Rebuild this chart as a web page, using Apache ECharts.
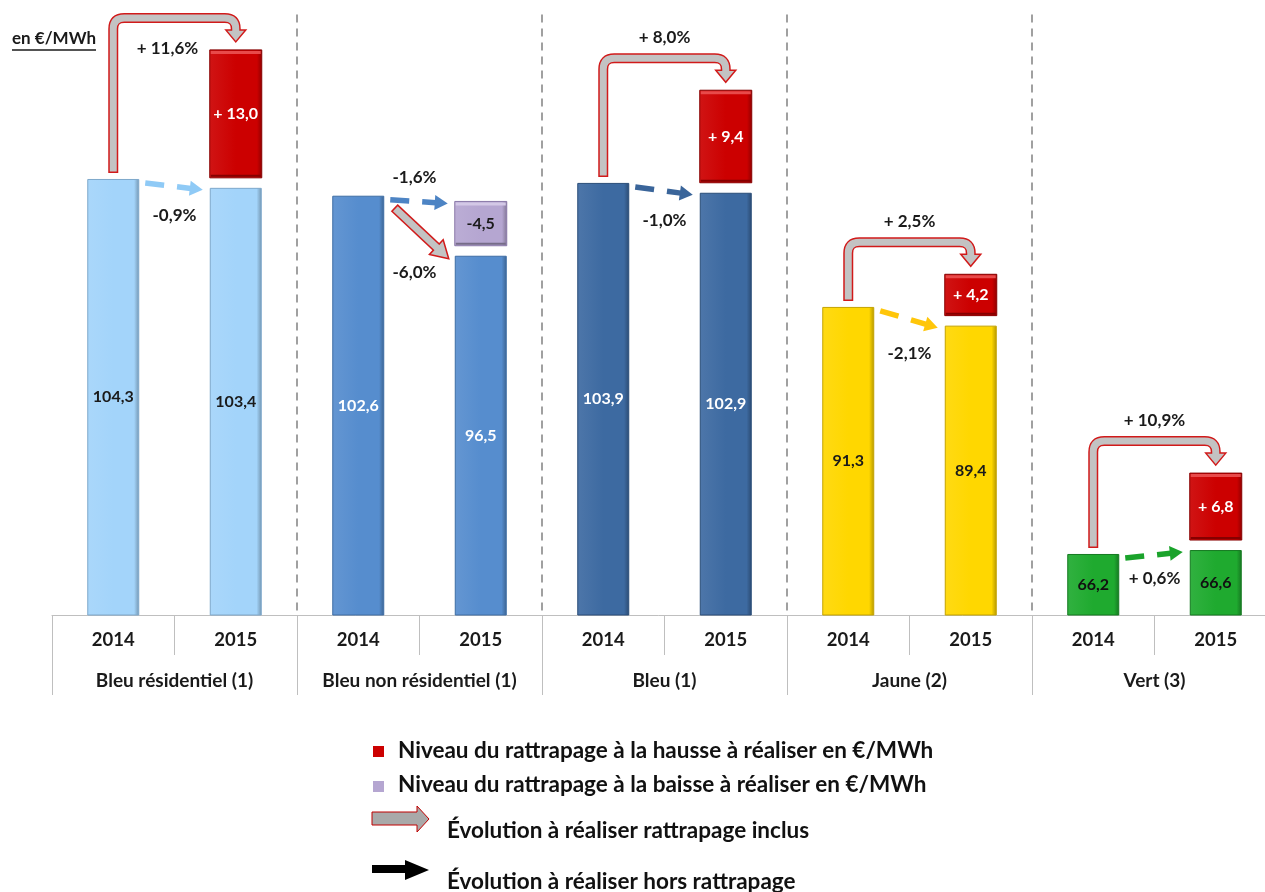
<!DOCTYPE html>
<html>
<head>
<meta charset="utf-8">
<script src="https://cdn.jsdelivr.net/npm/echarts@6/dist/echarts.min.js"></script>
<style>
  html, body { margin: 0; padding: 0; background: #ffffff; }
  #chart { width: 1265px; height: 892px; }
</style>
</head>
<body>
<div id="chart"></div>
<script>
// Tarifs réglementés (en €/MWh), 2014 et 2015, par option tarifaire
const groups = ['Bleu résidentiel (1)', 'Bleu non résidentiel (1)', 'Bleu (1)', 'Jaune (2)', 'Vert (3)'];
const years = ['2014', '2015'];
const tarif2014 = [104.3, 102.6, 103.9, 91.3, 66.2];
const tarif2015 = [103.4, 96.5, 102.9, 89.4, 66.6];
const rattrapageHausse = [13.0, null, 9.4, 4.2, 6.8];
const rattrapageBaisse = [null, 4.5, null, null, null];
const evolutionInclus = ['+ 11,6%', '-6,0%', '+ 8,0%', '+ 2,5%', '+ 10,9%'];
const evolutionHors = ['-0,9%', '-1,6%', '-1,0%', '-2,1%', '+ 0,6%'];
const legendLabels = [
  'Niveau du rattrapage à la hausse à réaliser en €/MWh',
  'Niveau du rattrapage à la baisse à réaliser en €/MWh',
  'Évolution à réaliser rattrapage inclus',
  'Évolution à réaliser hors rattrapage'
];
const unitLabel = 'en €/MWh';

// Styling
const FONT = 'Lato, "Open Sans", sans-serif';
const BAR_W = 52;      // bar width in px
const GAP = 10;        // px gap between a 2015 bar and its rattrapage box
const palette = [
  { fill: '#a3d4fa', edge: '#7ea8cb', text: '#1a1a1a', arrow: '#8fcaf6' },
  { fill: '#568dce', edge: '#3e6da4', text: '#ffffff', arrow: '#4d84c4' },
  { fill: '#3d6aa1', edge: '#2a4d78', text: '#ffffff', arrow: '#3a659a' },
  { fill: '#ffd700', edge: '#c4a300', text: '#1a1a1a', arrow: '#ffc60a' },
  { fill: '#1faa2f', edge: '#157a21', text: '#111111', arrow: '#1aa32b' }
];
const RED = { fill: '#cc0000', edge: '#870000', light: '#e84a4a' };
const PURPLE = { fill: '#b5a6d1', edge: '#8a79a8', light: '#d3c8e6' };
const ARROW_GRAY = '#c3c3c3';
const ARROW_RED = '#d11a1a';

const fmt = v => v.toFixed(1).replace('.', ',');

// Category keys: one per (group, year)
const categories = [];
groups.forEach((g, gi) => years.forEach(y => categories.push(gi + '|' + y)));

function shade(hex, k) {
  const n = parseInt(hex.slice(1), 16);
  let r = (n >> 16) & 255, g = (n >> 8) & 255, b = n & 255;
  const f = c => Math.max(0, Math.min(255, Math.round(k >= 0 ? c + (255 - c) * k : c * (1 + k))));
  return 'rgb(' + f(r) + ',' + f(g) + ',' + f(b) + ')';
}

function barGradient(c) {
  return new echarts.graphic.LinearGradient(0, 0, 1, 0, [
    { offset: 0, color: shade(c, 0.08) },
    { offset: 0.5, color: c },
    { offset: 0.9, color: c },
    { offset: 1, color: shade(c, -0.3) }
  ]);
}

// Main bars (2014 / 2015 for each group)
const barData = [];
groups.forEach((g, gi) => {
  [tarif2014[gi], tarif2015[gi]].forEach(v => {
    const p = palette[gi];
    barData.push({
      value: v,
      itemStyle: { color: barGradient(p.fill), borderColor: p.edge, borderWidth: 1 },
      label: { color: p.text }
    });
  });
});

// Rattrapage boxes stacked over the 2015 bars
const adjItems = [];
groups.forEach((g, gi) => {
  if (rattrapageHausse[gi] != null) adjItems.push({ x: gi * 2 + 1, base: tarif2015[gi], amount: rattrapageHausse[gi], kind: 'hausse' });
  if (rattrapageBaisse[gi] != null) adjItems.push({ x: gi * 2 + 1, base: tarif2015[gi], amount: rattrapageBaisse[gi], kind: 'baisse' });
});

function bevelBox(x, y, w, h, col) {
  return [
    { type: 'rect', shape: { x: x, y: y, width: w, height: h },
      style: { fill: barGradient(col.fill), stroke: col.edge, lineWidth: 1 } },
    { type: 'rect', shape: { x: x + 1, y: y + 1, width: w - 2, height: 3 },
      style: { fill: col.light } },
    { type: 'rect', shape: { x: x + 1, y: y + h - 3, width: w - 2, height: 2 },
      style: { fill: shade(col.fill, -0.35) } }
  ];
}

function renderAdjust(params, api) {
  const it = adjItems[params.dataIndex];
  const pBase = api.coord([it.x, it.base]);
  const pTop = api.coord([it.x, it.base + it.amount]);
  const yBottom = pBase[1] - GAP;
  const yTop = pTop[1] - GAP;
  const x = pBase[0] - BAR_W / 2;
  const col = it.kind === 'hausse' ? RED : PURPLE;
  const children = bevelBox(x, yTop, BAR_W, yBottom - yTop, col);
  children.push({
    type: 'text',
    style: {
      x: pBase[0], y: (yTop + yBottom) / 2,
      text: it.kind === 'hausse' ? '+ ' + fmt(it.amount) : '-' + fmt(it.amount),
      fill: it.kind === 'hausse' ? '#ffffff' : '#1a1a1a',
      font: 'bold 16px ' + FONT, align: 'center', verticalAlign: 'middle'
    }
  });
  return { type: 'group', children: children };
}

// Straight arrow with a gray body and red outline
function outlinedArrow(start, tip, shaftW, headL, headW) {
  const dx = tip[0] - start[0], dy = tip[1] - start[1];
  const L = Math.hypot(dx, dy);
  const ux = dx / L, uy = dy / L, nx = -uy, ny = ux;
  const hb = [tip[0] - ux * headL, tip[1] - uy * headL];
  return [
    { type: 'line', shape: { x1: start[0], y1: start[1], x2: hb[0], y2: hb[1] },
      style: { stroke: ARROW_RED, lineWidth: shaftW + 3 } },
    { type: 'polygon', shape: { points: [
        [hb[0] + nx * headW / 2, hb[1] + ny * headW / 2], tip,
        [hb[0] - nx * headW / 2, hb[1] - ny * headW / 2]] },
      style: { fill: ARROW_GRAY, stroke: ARROW_RED, lineWidth: 1.5, lineJoin: 'miter' } },
    { type: 'line', shape: { x1: start[0] + ux * 1.5, y1: start[1] + uy * 1.5, x2: hb[0] + ux * 2, y2: hb[1] + uy * 2 },
      style: { stroke: ARROW_GRAY, lineWidth: shaftW } }
  ];
}

// Dashed arrow (evolution hors rattrapage)
function dashedArrow(start, tip, color) {
  const dx = tip[0] - start[0], dy = tip[1] - start[1];
  const L = Math.hypot(dx, dy);
  const ux = dx / L, uy = dy / L, nx = -uy, ny = ux;
  const headL = 13, headW = 15;
  const hb = [tip[0] - ux * headL, tip[1] - uy * headL];
  return [
    { type: 'line', shape: { x1: start[0], y1: start[1], x2: hb[0] + ux, y2: hb[1] + uy },
      style: { stroke: color, lineWidth: 5.5, lineDash: [19, 13] } },
    { type: 'polygon', shape: { points: [
        [hb[0] + nx * headW / 2, hb[1] + ny * headW / 2], tip,
        [hb[0] - nx * headW / 2, hb[1] - ny * headW / 2]] },
      style: { fill: color } }
  ];
}

function pctText(x, y, text) {
  return { type: 'text', style: { x: x, y: y, text: text, fill: '#1a1a1a',
    font: 'bold 17px ' + FONT, align: 'center', verticalAlign: 'middle' } };
}

function renderArrows(params, api) {
  const g = params.dataIndex;
  const c14 = api.coord([2 * g, tarif2014[g]]);
  const c15 = api.coord([2 * g + 1, tarif2015[g]]);
  const half = BAR_W / 2;
  const midX = (c14[0] + c15[0]) / 2;
  const children = [];

  // Evolution hors rattrapage
  let targetY = c15[1];
  if (rattrapageBaisse[g] != null) {
    targetY = api.coord([2 * g + 1, tarif2015[g] + rattrapageBaisse[g]])[1] - GAP;
  }
  const dStart = [c14[0] + half + 6, c14[1] + 4];
  const dTip = [c15[0] - half - 7, targetY + 2];
  children.push.apply(children, dashedArrow(dStart, dTip, palette[g].arrow));
  if (rattrapageBaisse[g] != null) {
    children.push(pctText(midX - 5, dStart[1] - 22, evolutionHors[g]));
  } else {
    children.push(pctText(midX, c15[1] + 28, evolutionHors[g]));
  }

  // Evolution rattrapage inclus
  if (rattrapageHausse[g] != null) {
    const redTop = api.coord([2 * g + 1, tarif2015[g] + rattrapageHausse[g]])[1] - GAP;
    const x0 = c14[0], x1 = c15[0];
    const tipY = redTop - 8;
    const yc = tipY - 24;
    const yb = c14[1] - 6;
    const r = 11;
    const hb = tipY - 12;
    const d = (ys) => 'M' + x0 + ',' + ys + ' L' + x0 + ',' + (yc + r) +
      ' Q' + x0 + ',' + yc + ' ' + (x0 + r) + ',' + yc +
      ' L' + (x1 - r) + ',' + yc +
      ' Q' + x1 + ',' + yc + ' ' + x1 + ',' + (yc + r);
    children.push({ type: 'path', shape: { pathData: d(yb) + ' L' + x1 + ',' + hb },
      style: { fill: null, stroke: ARROW_RED, lineWidth: 10 } });
    children.push({ type: 'polygon', shape: { points: [[x1 - 10, hb], [x1, tipY], [x1 + 10, hb]] },
      style: { fill: ARROW_GRAY, stroke: ARROW_RED, lineWidth: 1.5 } });
    children.push({ type: 'path', shape: { pathData: d(yb - 1.5) + ' L' + x1 + ',' + (hb + 2) },
      style: { fill: null, stroke: ARROW_GRAY, lineWidth: 7 } });
    if (yc - 21 >= 12) {
      children.push(pctText(midX, yc - 21, evolutionInclus[g]));
    } else {
      children.push(pctText(midX - 7, yc + 31, evolutionInclus[g]));
    }
  } else {
    const aStart = [c14[0] + half + 10, c14[1] + 12];
    const aTip = [c15[0] - half - 6, c15[1] + 3];
    children.push.apply(children, outlinedArrow(aStart, aTip, 7, 17, 20));
    children.push(pctText(midX - 5, c15[1] + 17, evolutionInclus[g]));
  }
  return { type: 'group', children: children };
}

const chart = echarts.init(document.getElementById('chart'), null, { renderer: 'canvas' });

const axisGray = '#bfbfbf';
const legendFont = 'bold 22.5px ' + FONT;
const option = {
  animation: false,
  backgroundColor: '#ffffff',
  grid: { left: 52, top: 14.6, width: 1225, height: 600.4, containLabel: false, outerBoundsMode: 'none' },
  xAxis: [
    {
      type: 'category', data: categories, position: 'bottom',
      axisLine: { lineStyle: { color: axisGray, width: 1 } },
      axisTick: { show: true, interval: 0, length: 40, lineStyle: { color: axisGray } },
      axisLabel: { interval: 0, margin: 16, formatter: v => v.split('|')[1],
        color: '#1a1a1a', fontFamily: FONT, fontWeight: 'bold', fontSize: 18.5 },
      splitLine: { show: false }
    },
    {
      type: 'category', data: groups, position: 'bottom',
      axisLine: { show: false },
      axisTick: { show: true, interval: 0, length: 80, lineStyle: { color: axisGray } },
      axisLabel: { interval: 0, margin: 56, color: '#1a1a1a', fontFamily: FONT, fontWeight: 'bold', fontSize: 19 },
      splitLine: { show: true, interval: 0, showMinLine: false, showMaxLine: false,
        lineStyle: { color: '#a0a0a0', width: 2, type: [8, 6] } }
    }
  ],
  yAxis: { type: 'value', min: 60, max: 121, show: false, splitLine: { show: false } },
  series: [
    {
      type: 'bar', xAxisIndex: 0, data: barData, barWidth: BAR_W,
      label: { show: true, position: 'inside', fontFamily: FONT, fontWeight: 'bold', fontSize: 16,
        formatter: p => fmt(p.value) }
    },
    {
      type: 'custom', xAxisIndex: 0, renderItem: renderAdjust,
      data: adjItems.map(a => [a.x, a.base, a.amount]), z: 3
    },
    {
      type: 'custom', xAxisIndex: 0, renderItem: renderArrows,
      data: groups.map((g, gi) => [2 * gi, tarif2014[gi]]), z: 4
    }
  ],
  graphic: [
    // unit label
    { type: 'text', left: 12, top: 30, style: { text: unitLabel, fill: '#1a1a1a', font: 'bold 17px ' + FONT } },
    { type: 'line', shape: { x1: 12, y1: 50, x2: 96, y2: 50 }, style: { stroke: '#1a1a1a', lineWidth: 1.3 } },
    // legend
    { type: 'rect', shape: { x: 373, y: 746, width: 11, height: 11 }, style: { fill: RED.fill } },
    { type: 'text', style: { x: 398, y: 751, text: legendLabels[0], fill: '#111', font: legendFont, verticalAlign: 'middle' } },
    { type: 'rect', shape: { x: 373, y: 781, width: 11, height: 11 }, style: { fill: PURPLE.fill } },
    { type: 'text', style: { x: 398, y: 785, text: legendLabels[1], fill: '#111', font: legendFont, verticalAlign: 'middle' } },
    { type: 'polygon', shape: { points: [[372, 812], [417, 812], [417, 806], [429, 819], [417, 832], [417, 825], [372, 825]] },
      style: { fill: '#a9a9a9', stroke: '#c00000', lineWidth: 1 } },
    { type: 'text', style: { x: 447, y: 831, text: legendLabels[2], fill: '#111', font: legendFont, verticalAlign: 'middle' } },
    { type: 'polygon', shape: { points: [[372, 865], [405, 865], [405, 860], [429, 870], [405, 880], [405, 873], [372, 873]] },
      style: { fill: '#000000' } },
    { type: 'text', style: { x: 447, y: 882, text: legendLabels[3], fill: '#111', font: legendFont, verticalAlign: 'middle' } }
  ]
};

chart.setOption(option);
</script>
</body>
</html>
